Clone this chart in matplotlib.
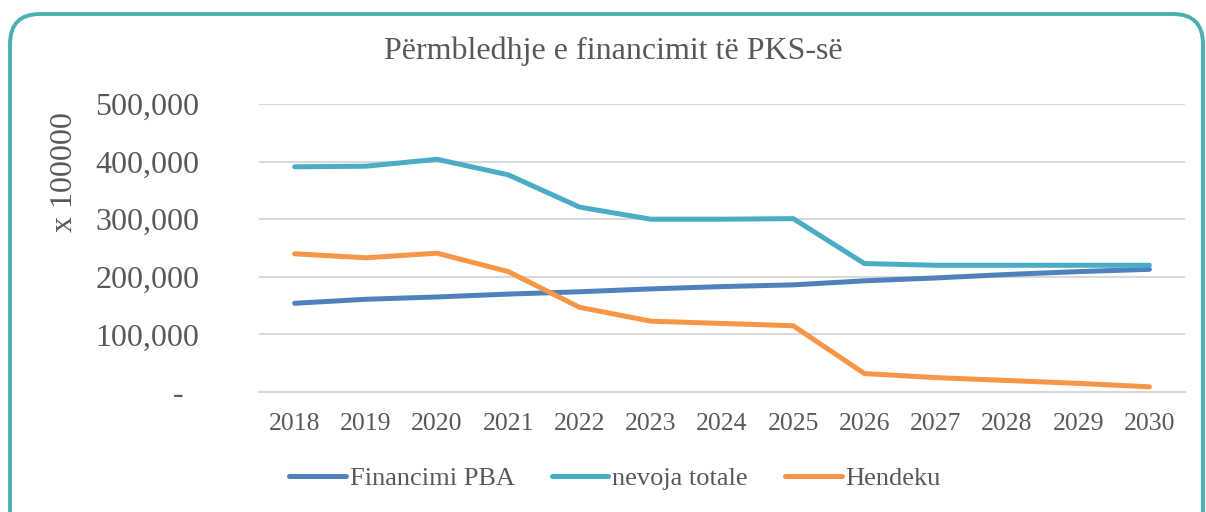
import matplotlib.pyplot as plt
from matplotlib.patches import FancyBboxPatch
from matplotlib.ticker import FuncFormatter

# data
years = ['2018', '2019', '2020', '2021', '2022', '2023', '2024',
         '2025', '2026', '2027', '2028', '2029', '2030']
financimi_pba = [154000, 161000, 165000, 170000, 174000, 179000, 183000,
                 186000, 193000, 198000, 204000, 209000, 213000]
nevoja_totale = [391000, 392000, 404000, 377000, 321000, 300000, 300000,
                 301000, 223000, 220000, 220000, 220000, 220000]
hendeku = [240000, 233000, 241000, 209000, 147000, 123000, 119000,
           115000, 32000, 25000, 20000, 15000, 9000]

plt.rcParams['font.family'] = ['Liberation Serif', 'DejaVu Serif']
txt = '#595959'

fig = plt.figure(figsize=(12.06, 5.12), dpi=100)

# rounded teal frame round the chart
bg = fig.add_axes([0, 0, 1, 1], zorder=-1)
bg.set_xlim(0, 1206)
bg.set_ylim(512, 0)
bg.axis('off')
bg.add_patch(FancyBboxPatch((10, 14), 1193, 530,
                            boxstyle='round,pad=0,rounding_size=30',
                            facecolor='white', edgecolor='#4BAFB0', lw=2.8))

ax = fig.add_axes([259 / 1206, 1 - 392 / 512, (1185 - 259) / 1206, 288 / 512])
ax.set_facecolor('none')
x = range(len(years))
ax.plot(x, financimi_pba, color='#4F81BD', lw=3.6, solid_capstyle='round',
        solid_joinstyle='round', label='Financimi PBA')
ax.plot(x, nevoja_totale, color='#4BACC6', lw=3.6, solid_capstyle='round',
        solid_joinstyle='round', label='nevoja totale')
ax.plot(x, hendeku, color='#F79646', lw=3.6, solid_capstyle='round',
        solid_joinstyle='round', label='Hendeku')

ax.set_xlim(-0.5, len(years) - 0.5)
ax.set_ylim(0, 500000)
ax.set_yticks(range(0, 500001, 100000))
ax.yaxis.set_major_formatter(FuncFormatter(
    lambda v, p: '-  ' if v == 0 else f'{int(v):,}'))
ax.set_xticks(list(x))
ax.set_xticklabels(years)
ax.grid(axis='y', color='#D9D9D9', lw=1.5)
ax.set_axisbelow(True)
for s in ['top', 'right', 'left']:
    ax.spines[s].set_visible(False)
ax.spines['bottom'].set_color('#D9D9D9')
ax.spines['bottom'].set_linewidth(1.5)
ax.tick_params(axis='y', length=0, pad=43, labelsize=23, labelcolor=txt)
ax.tick_params(axis='x', length=0, pad=15, labelsize=18.5, labelcolor=txt)

fig.text(65 / 1206, 1 - 172 / 512, 'x 100000', rotation=90, fontsize=23,
         color=txt, ha='center', va='center')
fig.text(613 / 1206, 1 - 51 / 512, 'Përmbledhje e financimit të PKS-së',
         fontsize=23, color=txt, ha='center', va='center')

leg = fig.legend(loc='center', bbox_to_anchor=(615 / 1206, 1 - 478 / 512),
                 ncol=3, frameon=False, fontsize=19, handlelength=2.15,
                 handletextpad=0.15, columnspacing=1.4, labelcolor=txt)

fig.savefig('out.png', dpi=100)
